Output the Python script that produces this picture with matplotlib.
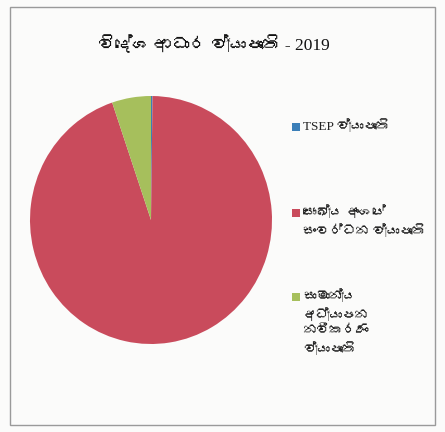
import matplotlib
matplotlib.use("Agg")
import matplotlib.pyplot as plt
from matplotlib import font_manager
from matplotlib.ft2font import FT2Font
from matplotlib.patches import Rectangle

# 数据
title = "විදේශ ආධාර ව්‍යාපෘති - 2019"
labels = ["TSEP ව්‍යාපෘති",
          "සෞඛ්‍ය අංශයේ\nසංවර්ධන ව්‍යාපෘති",
          "සාමාන්‍ය\nඅධ්‍යාපන\nනවීකරණ\nව්‍යාපෘති"]
values = [0.2, 94.6, 5.2]
colors = ["#3b7fb8", "#c94b5c", "#a6bf5c"]


def find_sinhala_font():
    # 找一个有僧伽罗文字形的字体，没有就退回 DejaVu
    for f in font_manager.fontManager.ttflist:
        try:
            if 0x0DC0 in FT2Font(f.fname).get_charmap():
                return f.name
        except Exception:
            pass
    return None


sin = find_sinhala_font()
family = ["Liberation Serif"] + ([sin] if sin else []) + ["DejaVu Sans"]

fig = plt.figure(figsize=(4.45, 4.32), dpi=100)
fig.patch.set_facecolor("#fbfbfa")
fig.patches.append(Rectangle((10 / 445, 7 / 432), 425 / 445, 418 / 432,
                             transform=fig.transFigure, fill=False,
                             edgecolor="#9a9a9a", linewidth=1.0))

fig.text(214 / 445, 1 - 45 / 432, title, ha="center", va="center",
         fontsize=12.5, family=family, color="#111111")

# 扫描件里的饼略微偏椭圆
ax = fig.add_axes([30 / 445, 88 / 432, 242 / 445, 248 / 432])
ax.pie(values, colors=colors, startangle=90, counterclock=False,
       wedgeprops=dict(linewidth=0))
ax.set_xlim(-1, 1)
ax.set_ylim(-1, 1)
ax.set_aspect("auto")

ys = [127, 213, 297]
for lab, col, y in zip(labels, colors, ys):
    fig.patches.append(Rectangle((292 / 445, 1 - (y + 4) / 432), 8 / 445, 8 / 432,
                                 transform=fig.transFigure, facecolor=col,
                                 edgecolor="none"))
    fig.text(303 / 445, 1 - (y - 8) / 432, lab, ha="left", va="top",
             fontsize=9.5, family=family, color="#222222", linespacing=1.45)

fig.savefig("out.png", dpi=100, facecolor=fig.get_facecolor())
